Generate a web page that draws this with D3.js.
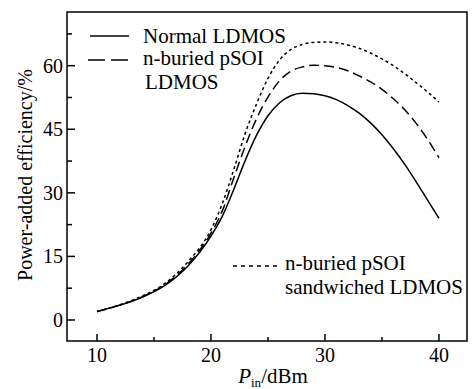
<!DOCTYPE html>
<html>
<head>
<meta charset="utf-8">
<script src="https://cdn.jsdelivr.net/npm/d3@7"></script>
<style>
  body { margin: 0; background: #fff; }
  svg { display: block; }
</style>
</head>
<body>
<svg id="chart" width="472" height="389"></svg>
<script>
const pin = [10, 12, 14, 16, 18, 20, 21, 22, 23, 24, 25, 26, 27, 28, 29, 30, 31, 32, 33, 34, 35, 36, 37, 38, 39, 40];

// power-added efficiency (%) per device
const normalPAE =   [2, 3.5, 5.4, 8.2, 12.8, 19.8, 24.5, 30.8, 37.6, 43.6, 48.2, 51.2, 52.9, 53.5, 53.4, 52.9, 52, 50.6, 48.8, 46.5, 43.7, 40.4, 36.7, 32.6, 28.3, 24];
const buriedPAE =   [2, 3.5, 5.5, 8.4, 13.2, 20.5, 25.8, 33.5, 41, 47.5, 52.6, 56.4, 58.7, 59.7, 60.1, 60, 59.6, 58.8, 57.6, 56.2, 54.4, 52.2, 49.6, 46.4, 42.6, 38.3];
const sandwichPAE = [2, 3.6, 5.7, 8.7, 13.8, 21.3, 27.5, 35.5, 44, 51, 57, 61.3, 63.8, 65, 65.5, 65.6, 65.4, 64.9, 64.1, 63, 61.6, 60, 58.1, 56, 53.8, 51.4];

const xTicks = [10, 20, 30, 40];
const xMinor = [15, 25, 35];
const yTicks = [0, 15, 30, 45, 60];
const yMinor = [7.5, 22.5, 37.5, 52.5, 67.5];

const FONT = "'Liberation Serif', 'Times New Roman', Times, 'DejaVu Serif', serif";

(function() {
  const svg = d3.select("#chart")
    .attr("font-family", FONT);
  const pl = 67, pr = 467, pt = 12, pb = 341;

  const x = d3.scaleLinear().domain([7.37, 42.46]).range([pl, pr]);
  const y = d3.scaleLinear().domain([-4.96, 72.67]).range([pb, pt]);

  // frame
  svg.append("rect")
    .attr("x", pl).attr("y", pt)
    .attr("width", pr - pl).attr("height", pb - pt)
    .attr("fill", "none").attr("stroke", "#000").attr("stroke-width", 1.5);

  // ticks (inward)
  xTicks.forEach(v => {
    svg.append("line").attr("x1", x(v)).attr("x2", x(v))
      .attr("y1", pb).attr("y2", pb - 7).attr("stroke", "#000").attr("stroke-width", 1.5);
    svg.append("text").attr("x", x(v)).attr("y", 362)
      .attr("text-anchor", "middle").attr("font-size", 20).text(v);
  });
  xMinor.forEach(v => {
    svg.append("line").attr("x1", x(v)).attr("x2", x(v))
      .attr("y1", pb).attr("y2", pb - 4).attr("stroke", "#000").attr("stroke-width", 1.5);
  });
  yTicks.forEach(v => {
    svg.append("line").attr("x1", pl).attr("x2", pl + 8)
      .attr("y1", y(v)).attr("y2", y(v)).attr("stroke", "#000").attr("stroke-width", 1.5);
    svg.append("text").attr("x", 63).attr("y", y(v) + 7)
      .attr("text-anchor", "end").attr("font-size", 20).text(v);
  });
  yMinor.forEach(v => {
    svg.append("line").attr("x1", pl).attr("x2", pl + 5)
      .attr("y1", y(v)).attr("y2", y(v)).attr("stroke", "#000").attr("stroke-width", 1.5);
  });

  // axis titles
  svg.append("text")
    .attr("transform", "translate(32,175) rotate(-90)")
    .attr("text-anchor", "middle").attr("font-size", 20)
    .text("Power-added efficiency/%");

  const xt = svg.append("text").attr("x", 273).attr("y", 383)
    .attr("text-anchor", "middle").attr("font-size", 21);
  xt.append("tspan").attr("font-style", "italic").text("P");
  xt.append("tspan").attr("font-size", 13).attr("dy", 4).text("in");
  xt.append("tspan").attr("dy", -4).text("/dBm");

  // curves
  const line = vals => d3.line()
    .x((d, i) => x(pin[i]))
    .y(d => y(d))
    .curve(d3.curveMonotoneX)(vals);

  const series = [
    { vals: normalPAE, dash: null },
    { vals: buriedPAE, dash: "10,5" },
    { vals: sandwichPAE, dash: "3,3" }
  ];
  series.forEach(s => {
    svg.append("path").attr("d", line(s.vals))
      .attr("fill", "none").attr("stroke", "#000").attr("stroke-width", 1.5)
      .attr("stroke-dasharray", s.dash);
  });

  // legend
  function legendText(x0, y0, lines, lh, indent) {
    lines.forEach((s, i) => {
      svg.append("text")
        .attr("x", x0 + (i ? indent : 0))
        .attr("y", y0 + i * lh)
        .attr("font-size", 21)
        .text(s);
    });
  }

  svg.append("line").attr("x1", 90).attr("x2", 129).attr("y1", 36).attr("y2", 36)
    .attr("stroke", "#000").attr("stroke-width", 1.5);
  legendText(143, 43, ["Normal LDMOS"], 0, 0);

  svg.append("line").attr("x1", 88).attr("x2", 130).attr("y1", 60).attr("y2", 60)
    .attr("stroke", "#000").attr("stroke-width", 1.5).attr("stroke-dasharray", "17,6");
  legendText(143, 65, ["n-buried pSOI", "LDMOS"], 23.5, 2);

  svg.append("line").attr("x1", 233).attr("x2", 281).attr("y1", 266).attr("y2", 266)
    .attr("stroke", "#000").attr("stroke-width", 1.5).attr("stroke-dasharray", "4,4");
  legendText(285, 270, ["n-buried pSOI", "sandwiched LDMOS"], 23.5, 0);
})();
</script>
</body>
</html>
